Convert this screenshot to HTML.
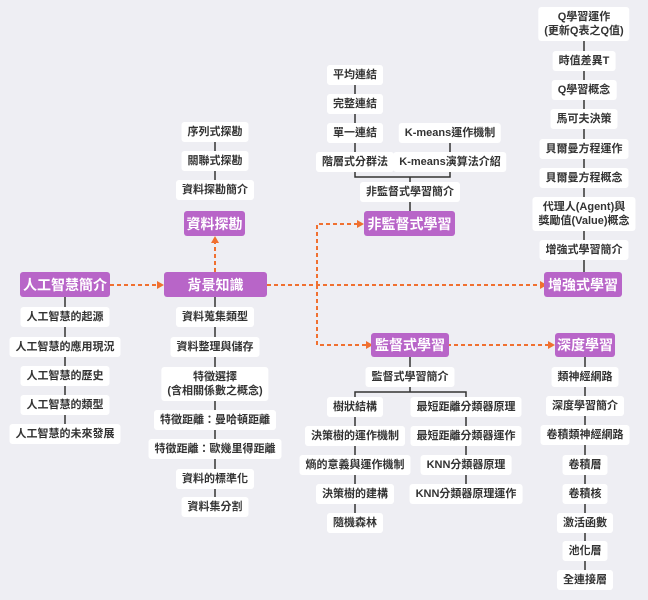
<!DOCTYPE html>
<html><head><meta charset="utf-8"><style>
body{margin:0;width:648px;height:600px;background:#eeeef3;position:relative;overflow:hidden;font-family:"Liberation Sans","Noto Sans CJK TC",sans-serif}
.l{position:absolute;transform:translate(-50%,-50%);background:#fff;border-radius:3px;padding:3px 6px;font-size:11px;font-weight:bold;color:#333;white-space:nowrap;text-align:center;line-height:14px}
.m{position:absolute;background:#b865c8;color:#fff;border-radius:3px;font-size:14px;font-weight:bold;display:flex;align-items:center;justify-content:center;white-space:nowrap}
svg{position:absolute;left:0;top:0}
</style></head><body>
<svg width="648" height="600">
<g stroke="#333" stroke-width="1.5" fill="none">
<line x1="65" y1="297" x2="65" y2="432"/>
<line x1="215" y1="297" x2="215" y2="505"/>
<line x1="215" y1="132" x2="215" y2="190"/>
<line x1="355" y1="75" x2="355" y2="162"/>
<line x1="450" y1="133" x2="450" y2="162"/>
<path d="M355 170 V177 H450 V170 M410 177 V211"/>
<line x1="584" y1="17" x2="584" y2="272"/>
<line x1="410" y1="357" x2="410" y2="377"/>
<path d="M355 400 V392 H466 V400 M410 383 V392"/>
<line x1="355" y1="407" x2="355" y2="523"/>
<line x1="466" y1="407" x2="466" y2="494"/>
<line x1="585" y1="357" x2="585" y2="580"/>
</g>
<g stroke="#f07030" stroke-width="2" stroke-dasharray="4,3" fill="none">
<line x1="110" y1="285" x2="158" y2="285"/>
<line x1="215" y1="272" x2="215" y2="242"/>
<line x1="267" y1="285" x2="541" y2="285"/>
<path d="M317 285 V224 H358"/>
<path d="M317 285 V345 H367"/>
<line x1="447" y1="345" x2="549" y2="345"/>
</g>
<g fill="#f07030">
<path d="M164 285 l-7 -4 v8z"/>
<path d="M215 236 l-4 7 h8z"/>
<path d="M547 285 l-7 -4 v8z"/>
<path d="M364 224 l-7 -4 v8z"/>
<path d="M373 345 l-7 -4 v8z"/>
<path d="M555 345 l-7 -4 v8z"/>
</g>
</svg>
<div class="m" style="left:20px;top:272px;width:90px;height:25px">人工智慧簡介</div>
<div class="m" style="left:164px;top:272px;width:103px;height:25px">背景知識</div>
<div class="m" style="left:184px;top:211px;width:61px;height:25px">資料探勘</div>
<div class="m" style="left:364px;top:211px;width:91px;height:25px">非監督式學習</div>
<div class="m" style="left:544px;top:272px;width:78px;height:25px">增強式學習</div>
<div class="m" style="left:371px;top:333px;width:78px;height:24px">監督式學習</div>
<div class="m" style="left:555px;top:333px;width:60px;height:24px">深度學習</div>

<div class="l" style="left:65px;top:317px">人工智慧的起源</div>
<div class="l" style="left:65px;top:347px">人工智慧的應用現況</div>
<div class="l" style="left:65px;top:376px">人工智慧的歷史</div>
<div class="l" style="left:65px;top:405px">人工智慧的類型</div>
<div class="l" style="left:65px;top:434px">人工智慧的未來發展</div>

<div class="l" style="left:215px;top:132px">序列式探勘</div>
<div class="l" style="left:215px;top:161px">關聯式探勘</div>
<div class="l" style="left:215px;top:190px">資料探勘簡介</div>
<div class="l" style="left:215px;top:317px">資料蒐集類型</div>
<div class="l" style="left:215px;top:347px">資料整理與儲存</div>
<div class="l" style="left:215px;top:384px">特徵選擇<br>(含相關係數之概念)</div>
<div class="l" style="left:215px;top:420px">特徵距離：曼哈頓距離</div>
<div class="l" style="left:215px;top:449px">特徵距離：歐幾里得距離</div>
<div class="l" style="left:215px;top:479px">資料的標準化</div>
<div class="l" style="left:215px;top:507px">資料集分割</div>

<div class="l" style="left:355px;top:75px">平均連結</div>
<div class="l" style="left:355px;top:104px">完整連結</div>
<div class="l" style="left:355px;top:133px">單一連結</div>
<div class="l" style="left:355px;top:162px">階層式分群法</div>
<div class="l" style="left:450px;top:133px">K-means運作機制</div>
<div class="l" style="left:450px;top:162px">K-means演算法介紹</div>
<div class="l" style="left:410px;top:192px">非監督式學習簡介</div>

<div class="l" style="left:584px;top:24px">Q學習運作<br>(更新Q表之Q值)</div>
<div class="l" style="left:584px;top:61px">時值差異T</div>
<div class="l" style="left:584px;top:90px">Q學習概念</div>
<div class="l" style="left:584px;top:119px">馬可夫決策</div>
<div class="l" style="left:584px;top:149px">貝爾曼方程運作</div>
<div class="l" style="left:584px;top:178px">貝爾曼方程概念</div>
<div class="l" style="left:584px;top:214px">代理人(Agent)與<br>獎勵值(Value)概念</div>
<div class="l" style="left:584px;top:250px">增強式學習簡介</div>

<div class="l" style="left:410px;top:377px">監督式學習簡介</div>
<div class="l" style="left:355px;top:407px">樹狀結構</div>
<div class="l" style="left:355px;top:436px">決策樹的運作機制</div>
<div class="l" style="left:355px;top:465px">熵的意義與運作機制</div>
<div class="l" style="left:355px;top:494px">決策樹的建構</div>
<div class="l" style="left:355px;top:523px">隨機森林</div>
<div class="l" style="left:466px;top:407px">最短距離分類器原理</div>
<div class="l" style="left:466px;top:436px">最短距離分類器運作</div>
<div class="l" style="left:466px;top:465px">KNN分類器原理</div>
<div class="l" style="left:466px;top:494px">KNN分類器原理運作</div>

<div class="l" style="left:585px;top:377px">類神經網路</div>
<div class="l" style="left:585px;top:406px">深度學習簡介</div>
<div class="l" style="left:585px;top:435px">卷積類神經網路</div>
<div class="l" style="left:585px;top:465px">卷積層</div>
<div class="l" style="left:585px;top:494px">卷積核</div>
<div class="l" style="left:585px;top:523px">激活函數</div>
<div class="l" style="left:585px;top:551px">池化層</div>
<div class="l" style="left:585px;top:580px">全連接層</div>
</body></html>
